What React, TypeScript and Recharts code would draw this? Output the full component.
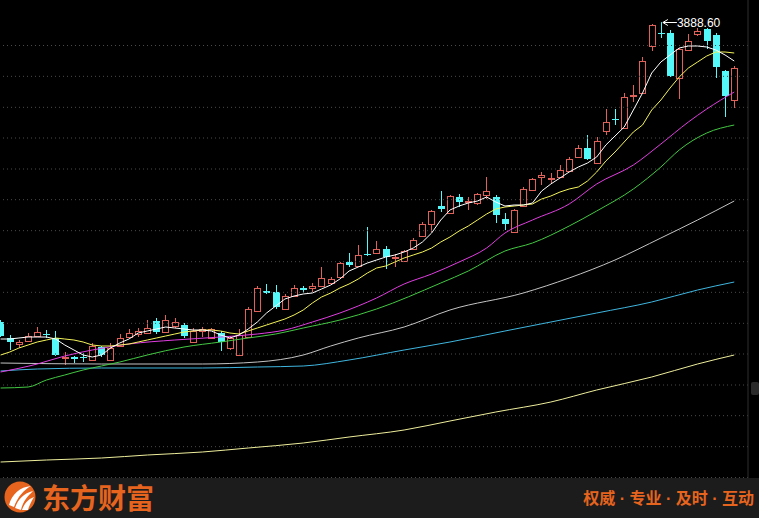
import React from 'react';
import { ComposedChart, Bar, Line, XAxis, YAxis, ReferenceLine, ReferenceDot } from 'recharts';

// ---- Candles (index 0 = leftmost, partially visible) ----
const OPEN = [2989,2941,2923,2932,2947,2953,2941,2881,2884,2884,2875,2914,2875,2917,2944,2953,2956,2992,2959,2977,2980,2929,2962,2941,2956,2911,2890,2944,3022,3082,3079,3028,3067,3091,3091,3097,3106,3124,3169,3157,3193,3196,3208,3181,3172,3208,3247,3283,3337,3316,3364,3349,3346,3370,3364,3298,3259,3337,3385,3424,3418,3424,3442,3484,3511,3466,3562,3598,3571,3667,3676,3817,3856,3856,3721,3805,3853,3868,3850,3742,3655];
const HIGH = [2995,2950,2935,2956,2974,2965,2962,2899,2887,2896,2926,2917,2926,2953,2968,2971,2995,3001,3010,3001,2986,2971,2974,2971,2962,2947,2968,3034,3097,3103,3100,3073,3100,3097,3106,3154,3124,3169,3196,3220,3274,3232,3217,3193,3205,3241,3289,3325,3382,3370,3373,3364,3376,3424,3370,3316,3328,3394,3421,3439,3436,3460,3484,3520,3550,3544,3628,3628,3676,3700,3784,3883,3888.6,3865,3811,3853,3871,3871,3856,3745,3757];
const LOW = [2944,2905,2911,2929,2947,2941,2887,2860,2866,2869,2872,2884,2875,2914,2941,2944,2953,2953,2956,2971,2941,2926,2944,2938,2902,2905,2887,2941,3019,3073,3028,3025,3064,3076,3079,3094,3100,3121,3154,3154,3187,3193,3148,3154,3169,3205,3244,3259,3319,3313,3334,3325,3340,3358,3286,3265,3256,3334,3382,3400,3403,3421,3439,3481,3475,3463,3550,3580,3568,3649,3673,3802,3841,3724,3658,3802,3847,3808,3721,3604,3631];
const CLOSE = [2947,2929,2929,2947,2959,2950,2890,2884,2878,2881,2917,2890,2911,2941,2956,2962,2971,2959,2995,2989,2947,2962,2968,2968,2929,2941,2950,3028,3091,3076,3034,3067,3091,3085,3097,3121,3118,3166,3160,3190,3190,3208,3184,3184,3202,3235,3283,3322,3328,3367,3349,3352,3373,3382,3310,3283,3325,3388,3418,3430,3421,3445,3478,3511,3478,3532,3589,3595,3664,3670,3772,3880,3853,3727,3808,3832,3862,3832,3754,3667,3751];

// ---- Moving averages ----
const MA5 = [2938,2938,2941,2944,2944,2944,2938,2920,2905,2890,2884,2890,2911,2926,2938,2956,2962,2968,2974,2971,2968,2965,2965,2962,2950,2941,2950,2968,2989,3016,3037,3058,3067,3073,3076,3088,3100,3118,3142,3154,3166,3175,3184,3190,3199,3211,3229,3256,3295,3325,3337,3346,3352,3364,3349,3337,3340,3340,3346,3382,3403,3421,3439,3454,3466,3484,3520,3547,3574,3625,3676,3736,3769,3790,3811,3817,3817,3814,3805,3790,3772];
const MA10 = [2890,2899,2911,2920,2929,2935,2941,2938,2935,2929,2920,2917,2917,2920,2923,2929,2935,2941,2947,2953,2959,2962,2965,2965,2962,2956,2953,2962,2971,2980,2989,2998,3010,3025,3046,3064,3076,3091,3103,3118,3136,3151,3157,3169,3181,3190,3199,3211,3229,3244,3262,3277,3295,3313,3328,3334,3337,3340,3343,3358,3367,3379,3388,3394,3412,3439,3472,3499,3529,3559,3580,3625,3655,3691,3724,3751,3769,3787,3799,3799,3796];
const MA20: [number, number][] = [[0,2839],[4,2863],[7,2887],[10,2905],[14,2923],[19,2935],[24,2944],[28,2953],[31,2965],[34,2989],[37,3016],[41,3061],[44,3103],[47,3133],[50,3169],[53,3211],[55,3256],[58,3295],[62,3343],[65,3403],[69,3460],[72,3523],[75,3589],[77,3628],[80,3679]];
const MA30: [number, number][] = [[0,2791],[3,2794],[5,2815],[7,2830],[9,2845],[11,2857],[13,2869],[16,2890],[20,2914],[24,2929],[27,2941],[30,2953],[33,2971],[37,2995],[41,3028],[48,3106],[51,3142],[55,3202],[58,3226],[62,3277],[65,3322],[69,3388],[72,3454],[74,3505],[77,3556],[80,3580]];
const MA60: [number, number][] = [[0,2866],[11,2863],[22,2863],[28,2869],[33,2890],[36,2917],[39,2941],[44,2974],[49,3025],[57,3076],[62,3121],[67,3175],[72,3241],[76,3295],[80,3352]];
const MA120: [number, number][] = [[0,2842],[4,2848],[11,2851],[22,2851],[28,2854],[33,2857],[38,2875],[44,2905],[49,2929],[55,2962],[60,2989],[65,3016],[71,3049],[76,3085],[80,3109]];
const MA250: [number, number][] = [[0,2569],[5,2575],[11,2581],[16,2590],[22,2599],[27,2611],[33,2626],[38,2644],[44,2665],[49,2692],[54,2719],[60,2749],[65,2785],[71,2824],[76,2863],[80,2890]];

const GRID_LEVELS = [3818.5,3726,3633,3541,3448,3356,3263,3170,3078,2985,2893,2800,2708,2615,2522.5];
const PEAK_INDEX = 72;
const PEAK_VALUE = 3888.6;
const PEAK_LABEL = '3888.60';
const SLOGAN = '权威 · 专业 · 及时 · 互动';
const BRAND = '东方财富';

const UP = '#e0605a';
const DOWN = '#54f8f8';
const ORANGE = '#e6641e';

const toMap = (arr: [number, number][]) => new Map(arr.map(([i, v]) => [i, v]));
const m20 = toMap(MA20), m30 = toMap(MA30), m60 = toMap(MA60), m120 = toMap(MA120), m250 = toMap(MA250);

const data = Array.from({ length: OPEN.length + 1 }, (_, i) => {
  const has = i < OPEN.length;
  return {
    idx: i,
    open: has ? OPEN[i] : null,
    high: has ? HIGH[i] : null,
    low: has ? LOW[i] : null,
    close: has ? CLOSE[i] : null,
    range: has ? [LOW[i], HIGH[i]] : null,
    ma5: has ? MA5[i] : null,
    ma10: has ? MA10[i] : null,
    ma20: m20.get(i) ?? null,
    ma30: m30.get(i) ?? null,
    ma60: m60.get(i) ?? null,
    ma120: m120.get(i) ?? null,
    ma250: m250.get(i) ?? null,
  };
});

const Candle = (props: any) => {
  const { x, y, width, height, payload } = props;
  if (!payload || payload.open == null) return null;
  const { open, close, high, low } = payload;
  const top = Math.min(y, y + height);
  const bot = Math.max(y, y + height);
  const k = high > low ? (bot - top) / (high - low) : 0;
  const py = (v: number) => top + (high - v) * k;
  const cx = Math.round(x + width / 2) + 0.5;
  const up = close >= open;
  const bTop = Math.round(py(Math.max(open, close)));
  const bBot = Math.round(py(Math.min(open, close)));
  const hTop = py(high);
  const lBot = py(low);
  if (up) {
    const bh = bBot - bTop;
    return (
      <g>
        <line x1={cx} x2={cx} y1={hTop} y2={bTop + 0.5} stroke={UP} strokeWidth={1} />
        <line x1={cx} x2={cx} y1={bBot + 0.5} y2={lBot} stroke={UP} strokeWidth={1} />
        {bh < 1 ? (
          <line x1={cx - 3.5} x2={cx + 3.5} y1={bTop + 0.5} y2={bTop + 0.5} stroke={UP} strokeWidth={1} />
        ) : (
          <rect x={cx - 3} y={bTop + 0.5} width={6} height={bh} fill="none" stroke={UP} strokeWidth={1} />
        )}
      </g>
    );
  }
  return (
    <g>
      <line x1={cx} x2={cx} y1={hTop} y2={lBot} stroke={DOWN} strokeWidth={1} />
      <rect x={cx - 3.5} y={bTop} width={7} height={Math.max(1, bBot - bTop)} fill={DOWN} />
    </g>
  );
};

const PeakMark = (props: any) => {
  const { cx, cy } = props;
  if (cx == null || cy == null) return null;
  const ax = cx + 2;
  const ay = Math.round(cy) + 0.5;
  return (
    <g>
      <line x1={ax} y1={ay} x2={ax + 14} y2={ay} stroke="#ffffff" strokeWidth={1} />
      <line x1={ax} y1={ay} x2={ax + 5} y2={ay - 3} stroke="#ffffff" strokeWidth={1} />
      <line x1={ax} y1={ay} x2={ax + 5} y2={ay + 3} stroke="#ffffff" strokeWidth={1} />
      <text x={ax + 14} y={ay + 4} fill="#ffffff" fontSize={12} fontFamily="Liberation Sans, Arial, sans-serif">
        {PEAK_LABEL}
      </text>
    </g>
  );
};

const MA_LINES = [
  { key: 'ma250', color: '#eeee9c', type: 'monotone' },
  { key: 'ma120', color: '#3fb6df', type: 'monotone' },
  { key: 'ma60', color: '#c4c4c4', type: 'monotone' },
  { key: 'ma30', color: '#43c843', type: 'monotone' },
  { key: 'ma20', color: '#e03ee0', type: 'monotone' },
  { key: 'ma10', color: '#f4f45a', type: 'linear' },
  { key: 'ma5', color: '#ffffff', type: 'linear' },
];

export default function App() {
  return (
    <div style={{ position: 'fixed', left: 0, top: 0, width: 759, height: 518, background: '#000', overflow: 'hidden' }}>
      <div style={{ position: 'absolute', left: -4, top: 0 }}>
        <ComposedChart width={763} height={478} data={data} margin={{ top: 0, right: 0, bottom: 0, left: 0 }}>
          <XAxis dataKey="idx" type="category" hide />
          <YAxis
            orientation="right"
            width={11}
            type="number"
            domain={[2521, 3955]}
            allowDataOverflow
            tick={false}
            tickLine={false}
            axisLine={{ stroke: '#2e2e2e' }}
          />
          {GRID_LEVELS.map((v) => (
            <ReferenceLine key={v} y={v} stroke="#4a4a4a" strokeDasharray="1 3" strokeWidth={1} />
          ))}
          <Bar dataKey="range" shape={Candle} isAnimationActive={false} />
          {MA_LINES.map((m) => (
            <Line
              key={m.key}
              dataKey={m.key}
              type={m.type as any}
              stroke={m.color}
              strokeWidth={1}
              dot={false}
              activeDot={false}
              connectNulls
              isAnimationActive={false}
            />
          ))}
          <ReferenceDot x={PEAK_INDEX} y={PEAK_VALUE} r={0} shape={PeakMark} />
        </ComposedChart>
      </div>
      <div style={{ position: 'absolute', left: 751, top: 382, width: 8, height: 13, background: '#2a2a2a', borderRadius: 2 }} />
      <svg style={{ position: 'absolute', left: 0, top: 478 }} width={759} height={40}>
        <rect x={0} y={0} width={759} height={40} fill="#1c1c1c" />
        <circle cx={20} cy={19} r={15.5} fill={ORANGE} />
        <path d="M9 27 C 12 16, 20 9, 31 8 C 24 12, 18 18, 14 29 Z" fill="#ffffff" />
        <path d="M15 30 C 18 21, 24 15, 33 13 C 28 18, 23 23, 21 32 Z" fill="#ffffff" />
        <path d="M22 32 C 24 26, 28 21, 34 19 C 31 24, 29 28, 28 32 Z" fill="#ffffff" />
        <text x={42} y={31} fill={ORANGE} fontSize={28} fontWeight={700} fontFamily="Noto Sans CJK SC, sans-serif">
          {BRAND}
        </text>
        <text x={754} y={26} textAnchor="end" fill={ORANGE} fontSize={16} fontWeight={700} fontFamily="Liberation Sans, Noto Sans CJK SC, sans-serif">
          {SLOGAN}
        </text>
      </svg>
    </div>
  );
}
